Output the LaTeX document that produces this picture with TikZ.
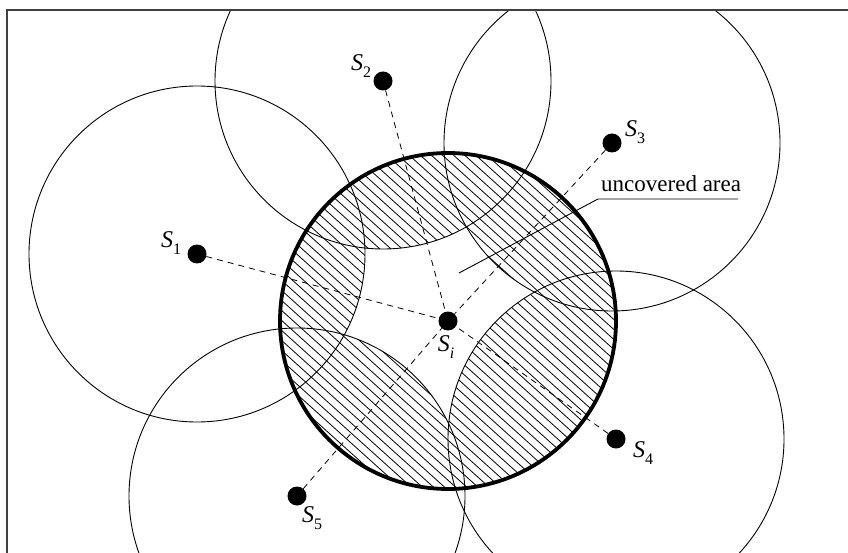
\documentclass[tikz,border=0pt]{standalone}
\usepackage{fontspec}
\setmainfont{Liberation Serif}
\begin{document}
\begin{tikzpicture}[x=1pt,y=-1pt,
  sensordot/.style={circle,fill=black,inner sep=0pt,minimum size=19pt},
  rangeline/.style={line width=0.9pt},
  mainline/.style={line width=3.8pt},
  linkline/.style={line width=0.8pt,dash pattern=on 6pt off 5pt},
  hatchline/.style={line width=0.8pt},
  lbl/.style={font=\fontsize{24}{28}\selectfont,inner sep=0pt},
  frameline/.style={line width=1.5pt,black!75}]
\useasboundingbox (0,0) rectangle (848,553);
\coordinate (ci) at (448,321);
\coordinate (c1) at (197,254);
\coordinate (c2) at (383,81);
\coordinate (c3) at (612,143);
\coordinate (c4) at (616,439);
\coordinate (c5) at (297,496);
\begin{scope}
  \clip (7,10) rectangle (848,553);
  \begin{scope}
    \clip (ci) circle[radius=168pt];
    \clip (c1) circle[radius=168pt] (c2) circle[radius=168pt] (c3) circle[radius=168pt]
          (c4) circle[radius=168pt] (c5) circle[radius=168pt];
    \foreach \k in {-170,-160,...,500} \draw[hatchline] (270,\k) -- ++(360,324);
  \end{scope}
  \foreach \c in {c1,c2,c3,c4,c5} \draw[rangeline] (\c) circle[radius=168pt];
  \draw[mainline] (ci) circle[radius=168pt];
\end{scope}
\node[sensordot] (si) at (ci) {};
\node[sensordot] (s1) at (c1) {};
\node[sensordot] (s2) at (c2) {};
\node[sensordot] (s3) at (c3) {};
\node[sensordot] (s4) at (c4) {};
\node[sensordot] (s5) at (c5) {};
\foreach \s in {s1,s2,s3,s4,s5} \draw[linkline] (\s) -- (si);
\node[lbl] (l1) at (171,243) {\textit{S}\raisebox{-0.3em}{\fontsize{16}{18}\selectfont 1}};
\node[lbl] (l2) at (361,66) {\textit{S}\raisebox{-0.3em}{\fontsize{16}{18}\selectfont 2}};
\node[lbl] (l3) at (635,132) {\textit{S}\raisebox{-0.3em}{\fontsize{16}{18}\selectfont 3}};
\node[lbl] (l4) at (643,453) {\textit{S}\raisebox{-0.3em}{\fontsize{16}{18}\selectfont 4}};
\node[lbl] (l5) at (312,518) {\textit{S}\raisebox{-0.3em}{\fontsize{16}{18}\selectfont 5}};
\node[lbl] (li) at (446,347) {\textit{S}\raisebox{-0.3em}{\fontsize{16}{18}\selectfont\textit{i}}};
\node[lbl,anchor=base west,font=\fontsize{23}{27}\selectfont] (ua) at (601,192) {uncovered area};
\coordinate (ul) at (598,199);
\coordinate (ur) at (738,199);
\coordinate (tip) at (459,273);
\draw[line width=0.9pt] (ur) -- (ul) -- (tip);
\draw[frameline] (7,553) -- (7,10) -- (848,10);
\end{tikzpicture}
\end{document}
